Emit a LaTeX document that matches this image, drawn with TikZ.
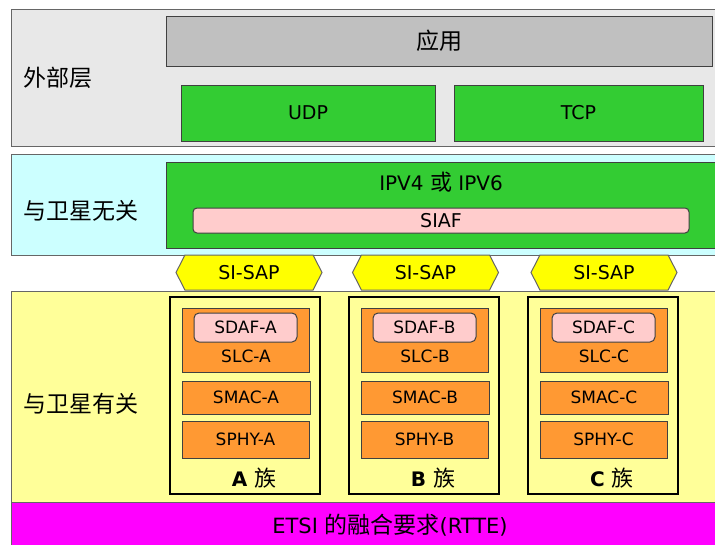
\documentclass[tikz,border=0pt]{standalone}
\usepackage{fontspec}
\setmainfont{DejaVu Sans}
\newfontfamily\cjk{Noto Sans CJK SC}
\usetikzlibrary{shapes.symbols}

\definecolor{extgray}{HTML}{E8E8E8}
\definecolor{appgray}{HTML}{C0C0C0}
\definecolor{ipgreen}{HTML}{33CC33}
\definecolor{indcyan}{HTML}{CCFFFF}
\definecolor{sipink}{HTML}{FFCCCC}
\definecolor{sapyellow}{HTML}{FFFF00}
\definecolor{deplight}{HTML}{FFFF99}
\definecolor{slcorange}{HTML}{FF9933}
\definecolor{etsimag}{HTML}{FF00FF}

% box from corner (x1,y1) to corner (x2,y2): name, style, x1, y1, x2, y2, text
\newcommand{\cornerbox}[7]{%
  \node[#2, minimum width={(#5)-(#3)}, minimum height={(#6)-(#4)}]
    (#1) at ({((#3)+(#5))/2},{((#4)+(#6))/2}) {#7};}

\tikzset{
  blk/.style={draw=black!75, line width=1pt, inner sep=0pt, outer sep=0pt,
              font=\fontsize{17}{19}\selectfont},
  layer/.style={blk, draw=black!60},
  famframe/.style={draw=black, line width=2.6pt, inner sep=0pt},
  sap/.style={blk, fill=sapyellow, draw=black!60, signal, signal to=west and east,
              signal pointer angle=126, minimum width=146, minimum height=35},
  sidelabel/.style={anchor=west, font=\cjk\fontsize{23}{26}\selectfont},
  bigtext/.style={font=\fontsize{20}{22}\selectfont},
}

\begin{document}
\begin{tikzpicture}[x=1pt,y=-1pt]
  \useasboundingbox (0,0) rectangle (715,544);

  % the four layers
  \cornerbox{ext}{layer, fill=extgray}{11}{9}{740}{146}{}
  \cornerbox{indep}{layer, fill=indcyan}{11}{154}{740}{255}{}
  \cornerbox{dep}{layer, fill=deplight}{11}{291}{740}{502}{}
  \cornerbox{etsi}{layer, fill=etsimag}{11}{502}{740}{560}{}
  \node[font=\fontsize{21}{23}\selectfont] (etsitext) at (390,525)
    {ETSI {\cjk\fontsize{23}{25}\selectfont 的融合要求}(RTTE)};

  \node[sidelabel] (extlabel) at (20,78) {外部层};
  \node[sidelabel] (indeplabel) at (20,211) {与卫星无关};
  \node[sidelabel] (deplabel) at (20,404) {与卫星有关};

  % external layer
  \cornerbox{app}{blk, fill=appgray, font=\cjk\fontsize{23}{26}\selectfont}{166}{16}{712}{66}{应用}
  \cornerbox{udp}{blk, fill=ipgreen, font=\fontsize{19}{21}\selectfont}{181}{85}{435}{141}{UDP}
  \cornerbox{tcp}{blk, fill=ipgreen, font=\fontsize{19}{21}\selectfont}{454}{85}{703}{141}{TCP}

  % satellite independent
  \cornerbox{ip}{blk, fill=ipgreen}{166}{162}{740}{248}{}
  \node[bigtext] (iptext) at (441,182) {IPV4 {\cjk\fontsize{22}{24}\selectfont 或} IPV6};
  \cornerbox{siaf}{blk, fill=sipink, rounded corners=4pt, font=\fontsize{19}{21}\selectfont}{193}{208}{689}{233}{SIAF}

  % satellite dependent families
  \foreach \f/\x/\s in {A/170/249,B/349/425.5,C/528/604} {
    \node[sap, font=\fontsize{19}{21}\selectfont] (sap\f) at (\s,272.5) {SI-SAP};
    \cornerbox{fam\f}{famframe}{\x}{297}{\x+150}{494}{}
    \cornerbox{slc\f}{blk, fill=slcorange}{\x+12}{308}{\x+139}{372}{}
    \node[font=\fontsize{17}{19}\selectfont] (slctext\f) at (\x+76,356) {SLC-\f};
    \cornerbox{sdaf\f}{blk, fill=sipink, rounded corners=5pt}{\x+24}{313}{\x+127}{342}{SDAF-\f}
    \cornerbox{smac\f}{blk, fill=slcorange}{\x+12}{381}{\x+140}{414}{SMAC-\f}
    \cornerbox{sphy\f}{blk, fill=slcorange}{\x+12}{421}{\x+139}{458}{SPHY-\f}
    \node[font=\bfseries\fontsize{20}{22}\selectfont] (famname\f) at (\x+84,478)
      {\f\ {\cjk\mdseries\fontsize{22}{24}\selectfont 族}};
  }
\end{tikzpicture}
\end{document}
